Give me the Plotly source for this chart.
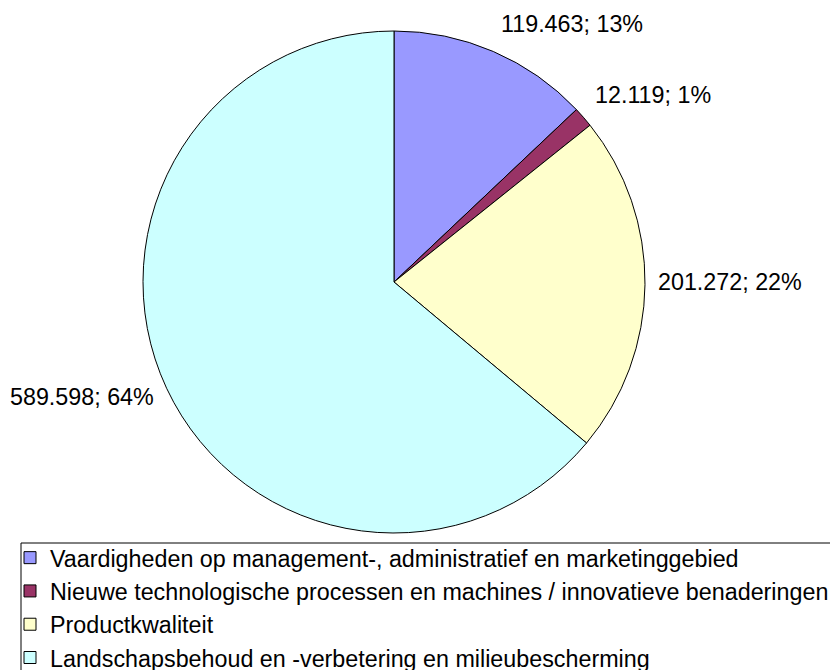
import plotly.graph_objects as go

categories = [
    "Vaardigheden op management-, administratief en marketinggebied",
    "Nieuwe technologische processen en machines / innovatieve benaderingen",
    "Productkwaliteit",
    "Landschapsbehoud en -verbetering en milieubescherming",
]
values = [119463, 12119, 201272, 589598]
colors = ["#9999FF", "#993366", "#FFFFCC", "#CCFFFF"]

W, H = 830, 670
FONT = "Arial, 'Liberation Sans', sans-serif"
FS = 23.3

fig = go.Figure(go.Pie(
    labels=categories,
    values=values,
    sort=False,
    direction="clockwise",
    rotation=0,
    textinfo="none",
    hoverinfo="label+value+percent",
    marker=dict(colors=colors, line=dict(color="black", width=1)),
    domain=dict(x=[143 / W, 645 / W], y=[1 - 533 / H, 1 - 31 / H]),
    showlegend=True,
))

total = sum(values)


def fmt(v):
    return f"{v:,}".replace(",", ".")


# label anchor positions (pixels): (x, y, xanchor)
label_pos = [(499, 24, "left"), (593, 95, "left"), (656, 282, "left"), (156, 397, "right")]
for v, (px, py, xa) in zip(values, label_pos):
    pct = round(100 * v / total)
    fig.add_annotation(
        x=px / W, y=1 - py / H, xref="paper", yref="paper",
        text=f"{fmt(v)}; {pct}%", showarrow=False,
        xanchor=xa, yanchor="middle",
        font=dict(family=FONT, size=FS, color="black"),
    )

# legend frame (extends past the right and bottom edges, as in the original)
fig.add_shape(
    type="rect", xref="paper", yref="paper",
    x0=21 / W, x1=1.05, y0=-0.05, y1=1 - 543 / H,
    line=dict(color="black", width=1), fillcolor="white", layer="above",
)

fig.update_layout(
    width=W, height=H,
    margin=dict(l=0, r=0, t=0, b=0, autoexpand=False),
    paper_bgcolor="white",
    plot_bgcolor="white",
    font=dict(family=FONT, size=FS, color="black"),
    legend=dict(
        x=21 / W, y=1 - 536 / H, xanchor="left", yanchor="top",
        bgcolor="rgba(0,0,0,0)", borderwidth=0,
        font=dict(family=FONT, size=FS, color="black"),
        indentation=-11,
        traceorder="normal",
    ),
)

fig.write_html(
    "out.html",
    config={"displayModeBar": False},
    post_script="document.body.style.margin='0';document.body.style.padding='0';",
)
